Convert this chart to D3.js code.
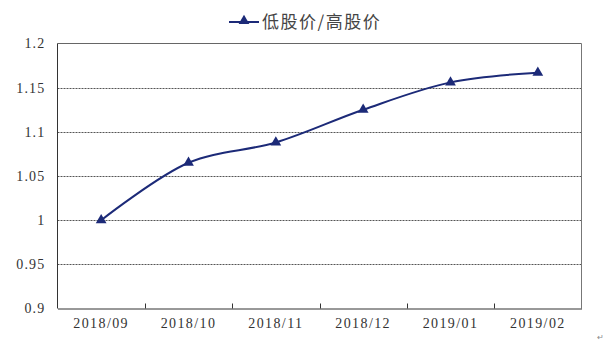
<!DOCTYPE html>
<html><head><meta charset="utf-8">
<script src="https://cdn.jsdelivr.net/npm/d3@7"></script>
<style>html,body{margin:0;padding:0;background:#fff;}svg{display:block;}</style>
</head><body>
<svg id="c" width="606" height="345"></svg>
<script>
const categories = ["2018/09","2018/10","2018/11","2018/12","2019/01","2019/02"];
const values = [1.000, 1.065, 1.088, 1.125, 1.156, 1.167];
const yTicks = [0.9, 0.95, 1, 1.05, 1.1, 1.15, 1.2];
const yTickLabels = ["0.9","0.95","1","1.05","1.1","1.15","1.2"];
const seriesName = "低股价/高股价";

const svg = d3.select("#c");
const m = {l:57.5, r:581.5, t:43.5, b:308.5};
const x = d3.scaleBand().domain(categories).range([m.l, m.r]);
const y = d3.scaleLinear().domain([0.9, 1.2]).range([m.b, m.t]);
const navy = "#1c2a78";

// gridlines
svg.append("g").selectAll("line").data(yTicks.filter(v => v > 0.9 && v < 1.2)).join("line")
  .attr("x1", m.l).attr("x2", m.r)
  .attr("y1", d => Math.round(y(d)) + 0.5).attr("y2", d => Math.round(y(d)) + 0.5)
  .attr("stroke", "#555").attr("stroke-width", 1).attr("stroke-dasharray", "2,1");

// border
svg.append("line").attr("x1", m.l).attr("x2", m.r).attr("y1", m.t).attr("y2", m.t).attr("stroke", "#666");
svg.append("line").attr("x1", m.r).attr("x2", m.r).attr("y1", m.t).attr("y2", m.b).attr("stroke", "#777");
svg.append("line").attr("x1", m.l).attr("x2", m.l).attr("y1", m.t).attr("y2", m.b).attr("stroke", "#333");

// x axis
const xAxis = d3.axisBottom(x).tickSize(0).tickPadding(10);
const gx = svg.append("g").attr("transform", `translate(0,${m.b})`).call(xAxis);
gx.select(".domain").attr("stroke", "#333");
gx.selectAll("text").attr("font-family", "'Liberation Serif', serif").attr("font-size", 14)
  .attr("fill", "#333").attr("letter-spacing", "1.4px");
// inner boundary ticks
svg.append("g").selectAll("line").data(categories.slice(1)).join("line")
  .attr("x1", d => Math.round(x(d)) + 0.5).attr("x2", d => Math.round(x(d)) + 0.5)
  .attr("y1", m.b).attr("y2", m.b - 5).attr("stroke", "#333");

// y axis labels
const yAxis = d3.axisLeft(y).tickValues(yTicks).tickFormat((d,i) => yTickLabels[i]).tickSize(0).tickPadding(12);
const gy = svg.append("g").attr("transform", `translate(${m.l},0)`).call(yAxis);
gy.select(".domain").remove();
gy.selectAll("text").attr("font-family", "'Liberation Serif', serif").attr("font-size", 14)
  .attr("fill", "#333").attr("letter-spacing", "1.2px");

// line
const pts = categories.map((c,i) => [x(c) + x.bandwidth()/2, y(values[i])]);
svg.append("path").attr("d", d3.line().curve(d3.curveCatmullRom.alpha(0.5))(pts))
  .attr("fill", "none").attr("stroke", navy).attr("stroke-width", 2);
const tri = d3.symbol().type(d3.symbolTriangle).size(50);
svg.append("g").selectAll("path").data(pts).join("path")
  .attr("transform", d => `translate(${d[0]},${d[1]})`).attr("d", tri).attr("fill", navy);

// legend
const lg = svg.append("g");
lg.append("line").attr("x1", 229).attr("x2", 259).attr("y1", 22).attr("y2", 22).attr("stroke", navy).attr("stroke-width", 2);
lg.append("path").attr("transform", "translate(244,21)").attr("d", tri).attr("fill", navy);
lg.append("text").attr("x", 262).attr("y", 28).text(seriesName)
  .attr("font-family", "'Noto Sans CJK SC', sans-serif").attr("font-size", 17).attr("fill", "#444").attr("letter-spacing", "1.5px");

svg.append("text").attr("x", 597).attr("y", 340).text("↵").attr("font-size", 8).attr("fill", "#888");
</script>
</body></html>
